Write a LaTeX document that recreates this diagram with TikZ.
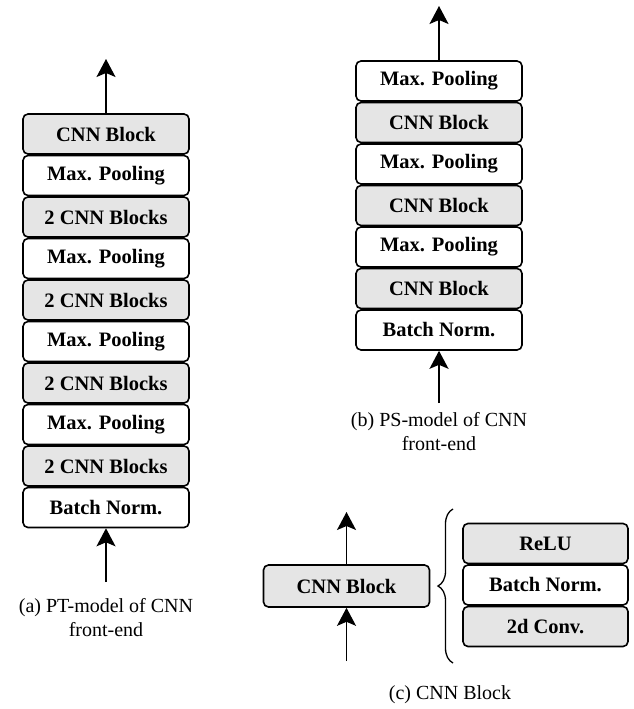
\documentclass[tikz,border=0pt]{standalone}
\usepackage{fontspec}
\setmainfont{Liberation Serif}
\usetikzlibrary{arrows.meta,decorations.pathreplacing}
\begin{document}
\begin{tikzpicture}[x=1pt,y=-1pt,
  blk/.style={draw=black, line width=1.6pt, rounded corners=5pt, minimum width=166pt, minimum height=40pt, inner sep=0pt, font=\fontsize{20.5}{24}\selectfont\bfseries, text=black},
  gblk/.style={blk, fill=black!10},
  wblk/.style={blk, fill=white},
  arr/.style={line width=1.5pt, -{Stealth[length=18pt,width=19pt,inset=4pt]}},
  captext/.style={font=\fontsize{20}{24}\selectfont, align=center, inner sep=0pt}]
\useasboundingbox (0,0) rectangle (634,709);
% (a) PT-model
\node[gblk] (a0) at (106,134)   {CNN Block};
\node[wblk] (a1) at (106,175.5) {Max. Pooling};
\node[gblk] (a2) at (106,217)   {2 CNN Blocks};
\node[wblk] (a3) at (106,258.5) {Max. Pooling};
\node[gblk] (a4) at (106,300)   {2 CNN Blocks};
\node[wblk] (a5) at (106,341.5) {Max. Pooling};
\node[gblk] (a6) at (106,383)   {2 CNN Blocks};
\node[wblk] (a7) at (106,424.5) {Max. Pooling};
\node[gblk] (a8) at (106,466)   {2 CNN Blocks};
\node[wblk] (a9) at (106,507.5) {Batch Norm.};
\coordinate (atop) at (106,59);
\coordinate (abot) at (106,582);
\draw[arr] (a0.north) -- (atop);
\draw[arr] (abot) -- (a9.south);
\node[captext] (capa) at (106,618) {(a) PT-model of CNN\\front-end};
% (b) PS-model
\node[wblk] (b0) at (439,81)    {Max. Pooling};
\node[gblk] (b1) at (439,122.5) {CNN Block};
\node[wblk] (b2) at (439,164)   {Max. Pooling};
\node[gblk] (b3) at (439,205.5) {CNN Block};
\node[wblk] (b4) at (439,247)   {Max. Pooling};
\node[gblk] (b5) at (439,288.5) {CNN Block};
\node[wblk] (b6) at (439,330)   {Batch Norm.};
\coordinate (btop) at (439,6);
\coordinate (bbot) at (439,403);
\draw[arr] (b0.north) -- (btop);
\draw[arr] (bbot) -- (b6.south);
\node[captext] (capb) at (439,432) {(b) PS-model of CNN\\front-end};
% (c) CNN Block
\node[gblk, minimum height=42pt] (c0) at (346.5,586) {CNN Block};
\coordinate (ctop) at (346.5,512);
\coordinate (cbot) at (346.5,661);
\draw[arr] (c0.north) -- (ctop);
\draw[arr] (cbot) -- (c0.south);
\node[gblk, minimum width=165pt] (r0) at (545.5,543.5) {ReLU};
\node[wblk, minimum width=165pt] (r1) at (545.5,585)   {Batch Norm.};
\node[gblk, minimum width=165pt] (r2) at (545.5,626.5) {2d Conv.};
\coordinate (brb) at (453,663);
\coordinate (brt) at (453,509);
\draw[line width=1.3pt, decorate, decoration={brace, amplitude=15pt}] (brb) -- (brt);
\node[captext] (capc) at (450,695) {(c) CNN Block};
\end{tikzpicture}
\end{document}
